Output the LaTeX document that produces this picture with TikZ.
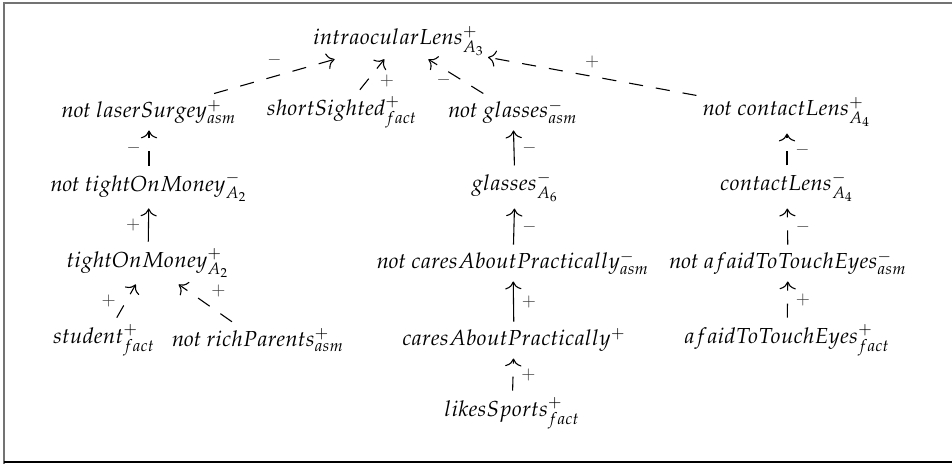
\documentclass[tikz,border=0pt]{standalone}
\usepackage[T1]{fontenc}
\usepackage{mathpazo}
\usetikzlibrary{arrows.meta}
\begin{document}
\begin{tikzpicture}[x=0.46pt,y=-0.46pt,
  lit/.style={inner sep=3pt, outer sep=0pt},
  tip/.style={-{To[length=3.6pt,width=7.5pt]}},
  support/.style={tip, line width=0.5pt},
  attack/.style={tip, line width=0.5pt, dash pattern=on 6.5pt off 6pt},
  lab/.style={font=\footnotesize, text=black!75, inner sep=1.5pt}]
\useasboundingbox (0,0) rectangle (952,464);
% frame
\draw[black!55, line width=1pt] (4,464) -- (4,3) -- (960,3);
\draw[black, line width=0.9pt] (4,462) -- (960,462);

% nodes
\node[lit, inner sep=1.5pt] (il) at (399,41) {$intraocularLens^{+}_{A_3}$};
\node[lit] (ls)  at (149,112) {\textit{not} $laserSurgey^{+}_{asm}$};
\node[lit] (ss)  at (342,112) {$shortSighted^{+}_{fact}$};
\node[lit] (ng)  at (513,112) {\textit{not} $glasses^{-}_{asm}$};
\node[lit] (nc)  at (787,112) {\textit{not} $contactLens^{+}_{A_4}$};
\node[lit] (nt)  at (149,187) {\textit{not} $tightOnMoney^{-}_{A_2}$};
\node[lit] (tm)  at (148,263) {$tightOnMoney^{+}_{A_2}$};
\node[lit] (st)  at (104,340) {$student^{+}_{fact}$};
\node[lit] (rp)  at (258,340) {\textit{not} $richParents^{+}_{asm}$};
\node[lit] (gl)  at (515,187) {$glasses^{-}_{A_6}$};
\node[lit] (nca) at (513,263) {\textit{not} $caresAboutPractically^{-}_{asm}$};
\node[lit] (ca)  at (514,340) {$caresAboutPractically^{+}$};
\node[lit] (lk)  at (512,413) {$likesSports^{+}_{fact}$};
\node[lit] (cl)  at (787,187) {$contactLens^{-}_{A_4}$};
\node[lit] (na)  at (788,263) {\textit{not} $afaidToTouchEyes^{-}_{asm}$};
\node[lit] (af)  at (787,340) {$afaidToTouchEyes^{+}_{fact}$};

% edges into the root
\draw[attack] (ls) -- node[lab, midway, above=3pt] {$-$} (il);
\draw[attack] (ss) -- node[lab, pos=0.3, right=4pt] {$+$} (il);
\draw[attack] (ng) -- node[lab, pos=0.4, left=3pt] {$-$} (il);
\draw[attack] (nc) -- node[lab, midway, above=2pt] {$+$} (il);

% left branch
\draw[attack]  (nt) -- node[lab, midway, left=2pt] {$-$} (ls);
\draw[support] (tm) -- node[lab, midway, left=2pt] {$+$} (nt);
\draw[attack]  (st) -- node[lab, midway, left=3pt] {$+$} (tm);
\draw[attack]  (rp) -- node[lab, midway, above right=1pt] {$+$} (tm);

% middle branch
\draw[support] (gl)  -- node[lab, midway, right=2pt] {$-$} (ng);
\draw[support] (nca) -- node[lab, midway, right=2pt] {$-$} (gl);
\draw[support] (ca)  -- node[lab, midway, right=2pt] {$+$} (nca);
\draw[attack]  (lk)  -- node[lab, midway, right=2pt] {$+$} (ca);

% right branch
\draw[attack] (cl) -- node[lab, midway, right=2pt] {$-$} (nc);
\draw[attack] (na) -- node[lab, midway, right=2pt] {$-$} (cl);
\draw[attack] (af) -- node[lab, midway, right=2pt] {$+$} (na);
\end{tikzpicture}
\end{document}
